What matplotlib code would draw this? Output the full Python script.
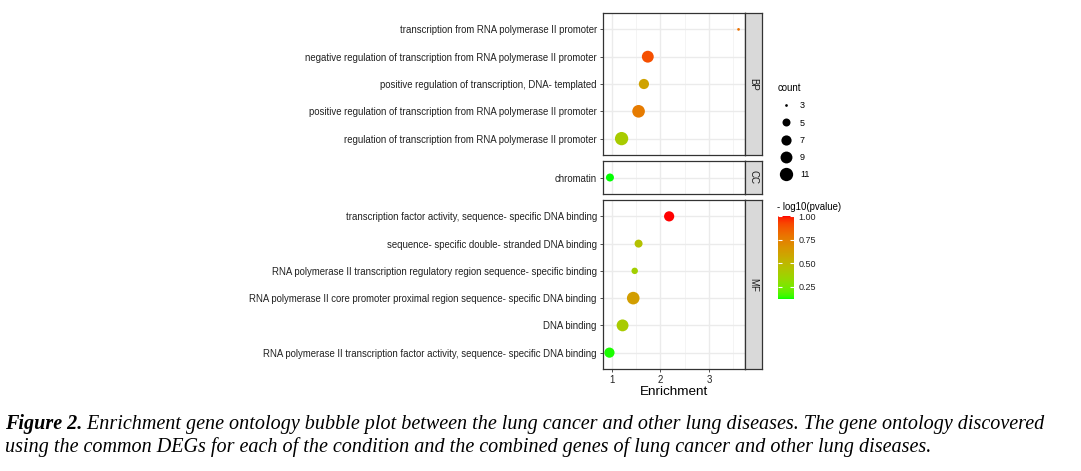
import numpy as np
import matplotlib.pyplot as plt
from matplotlib.colors import ListedColormap, Normalize
from matplotlib.cm import ScalarMappable
from matplotlib.lines import Line2D

# Data
terms = [
    'transcription from RNA polymerase II promoter',
    'negative regulation of transcription from RNA polymerase II promoter',
    'positive regulation of transcription, DNA- templated',
    'positive regulation of transcription from RNA polymerase II promoter',
    'regulation of transcription from RNA polymerase II promoter',
    'chromatin',
    'transcription factor activity, sequence- specific DNA binding',
    'sequence- specific double- stranded DNA binding',
    'RNA polymerase II transcription regulatory region sequence- specific binding',
    'RNA polymerase II core promoter proximal region sequence- specific DNA binding',
    'DNA binding',
    'RNA polymerase II transcription factor activity, sequence- specific DNA binding',
]
ontology = ['BP'] * 5 + ['CC'] + ['MF'] * 6
enrichment = [3.61, 1.74, 1.66, 1.55, 1.20, 0.96, 2.18, 1.55, 1.47, 1.44, 1.22, 0.95]
counts = [3, 9, 7, 10, 11, 5, 7, 5, 4, 10, 9, 7]
neg_log10_p = [0.80, 0.90, 0.60, 0.76, 0.40, 0.12, 1.00, 0.45, 0.38, 0.62, 0.40, 0.13]

facets = ['BP', 'CC', 'MF']
count_breaks = [3, 5, 7, 9, 11]
cbar_ticks = [0.25, 0.50, 0.75, 1.00]

caption_bold = 'Figure 2.'
caption_line1 = (' Enrichment gene ontology bubble plot between the lung cancer and other lung diseases.'
                 ' The gene ontology discovered')
caption_line2 = ('using the common DEGs for each of the condition and the combined genes of lung cancer'
                 ' and other lung diseases.')

plt.rcParams['font.family'] = ['Liberation Sans', 'DejaVu Sans']

# green -> red gradient interpolated in CIELAB (like ggplot2)
M = np.array([[0.4124, 0.3576, 0.1805], [0.2126, 0.7152, 0.0722], [0.0193, 0.1192, 0.9505]])
WHITE = np.array([0.95047, 1.0, 1.08883])


def srgb_to_lab(rgb):
    rgb = np.asarray(rgb, float)
    lin = np.where(rgb <= 0.04045, rgb / 12.92, ((rgb + 0.055) / 1.055) ** 2.4)
    xyz = M @ lin / WHITE
    f = np.where(xyz > (6 / 29) ** 3, np.cbrt(xyz), xyz / (3 * (6 / 29) ** 2) + 4 / 29)
    return np.array([116 * f[1] - 16, 500 * (f[0] - f[1]), 200 * (f[1] - f[2])])


def lab_to_srgb(lab):
    L, a, b = lab
    fy = (L + 16) / 116
    f = np.array([fy + a / 500, fy, fy - b / 200])
    xyz = np.where(f > 6 / 29, f ** 3, 3 * (6 / 29) ** 2 * (f - 4 / 29)) * WHITE
    lin = np.clip(np.linalg.inv(M) @ xyz, 0, 1)
    rgb = np.where(lin <= 0.0031308, 12.92 * lin, 1.055 * lin ** (1 / 2.4) - 0.055)
    return np.clip(rgb, 0, 1)


lab_lo, lab_hi = srgb_to_lab([0, 1, 0]), srgb_to_lab([1, 0, 0])
cmap = ListedColormap([lab_to_srgb((1 - t) * lab_lo + t * lab_hi) for t in np.linspace(0, 1, 256)])
norm = Normalize(min(neg_log10_p), max(neg_log10_p))

W, H = 1081, 471
fig = plt.figure(figsize=(W / 100, H / 100), dpi=100)
fig.patch.set_facecolor('white')


def px_axes(left, top, right, bottom):
    return fig.add_axes([left / W, 1 - bottom / H, (right - left) / W, (bottom - top) / H])


def dot_pt(c):
    # area scaling of the size legend, diameter in points
    d_px = 2.7 + 10.6 * np.sqrt((c - 3) / 8)
    return d_px * 0.72


x_lo, x_hi = min(enrichment), max(enrichment)
pad = 0.05 * (x_hi - x_lo)
xlim = (x_lo - pad, x_hi + pad)

panel_rows = {'BP': (13, 155), 'CC': (161, 194), 'MF': (200, 369)}
dark = '#333333'

for f in facets:
    idx = [i for i, o in enumerate(ontology) if o == f]
    n = len(idx)
    top, bottom = panel_rows[f]
    ax = px_axes(603, top, 745, bottom)
    ypos = [n - k for k in range(n)]
    xs = [enrichment[i] for i in idx]
    ss = [dot_pt(counts[i]) ** 2 for i in idx]
    cs = [neg_log10_p[i] for i in idx]
    ax.scatter(xs, ypos, s=ss, c=cs, cmap=cmap, norm=norm, edgecolors='none', zorder=3)
    ax.set_xlim(*xlim)
    ax.set_ylim(0.4, n + 0.6)
    ax.set_yticks(ypos, [terms[i] for i in idx])
    ax.set_xticks([1, 2, 3])
    ax.set_xticks([1.5, 2.5, 3.5], minor=True)
    ax.grid(True, which='major', color='#EBEBEB', linewidth=1.0, zorder=0)
    ax.grid(True, which='minor', axis='x', color='#F2F2F2', linewidth=0.6, zorder=0)
    ax.set_axisbelow(True)
    ax.tick_params(axis='y', length=2.5, width=0.6, color=dark, labelsize=6.9, labelcolor='#222222', pad=2)
    ax.tick_params(axis='x', which='minor', length=0)
    for sp in ax.spines.values():
        sp.set_color(dark)
        sp.set_linewidth(0.9)
    if f == 'MF':
        ax.tick_params(axis='x', length=2.5, width=0.6, color=dark, labelsize=6.9, labelcolor='#222222', pad=1.5)
        ax.set_xlabel('Enrichment', fontsize=9.7, color='black', labelpad=1)
    else:
        ax.tick_params(axis='x', which='both', length=0, labelbottom=False)

    sax = px_axes(745, top, 762, bottom)
    sax.set_facecolor('#D9D9D9')
    sax.set_xticks([])
    sax.set_yticks([])
    for sp in sax.spines.values():
        sp.set_color(dark)
        sp.set_linewidth(0.9)
    sax.text(0.5, 0.5, f, rotation=270, ha='center', va='center', fontsize=7, color='#1A1A1A',
             transform=sax.transAxes)

# size legend
handles = [Line2D([], [], marker='o', linestyle='', markersize=dot_pt(c), color='black',
                  markeredgewidth=0) for c in count_breaks]
fig.legend(handles, [str(c) for c in count_breaks], title='count', loc='upper left',
           bbox_to_anchor=(771 / W, 1 - 77 / H), frameon=False, fontsize=6.5, title_fontsize=6.9,
           alignment='left', handletextpad=0.5, labelspacing=0.9, borderpad=0.2)

# colour bar
cax = px_axes(778, 216, 794, 299)
cb = fig.colorbar(ScalarMappable(norm=norm, cmap=cmap), cax=cax, ticks=cbar_ticks)
cb.outline.set_visible(False)
cb.ax.set_yticklabels([f'{t:.2f}' for t in cbar_ticks])
cax.tick_params(direction='in', color='white', length=3, width=0.8, left=True, right=True,
                labelsize=6.5, labelcolor='#222222', pad=3)
fig.text(777 / W, 1 - 207 / H, '- log10(pvalue)', fontsize=6.9, va='center', ha='left')

# caption
cap_kw = dict(family=['Liberation Serif', 'DejaVu Serif'], style='italic', fontsize=14.5, va='center')
t0 = fig.text(5 / W, 1 - 424 / H, caption_bold, weight='bold', **cap_kw)
fig.canvas.draw()
bb = t0.get_window_extent()
fig.text(bb.x1 / W, 1 - 424 / H, caption_line1, **cap_kw)
fig.text(5 / W, 1 - 447 / H, caption_line2, **cap_kw)

fig.savefig('out.png', dpi=100)
